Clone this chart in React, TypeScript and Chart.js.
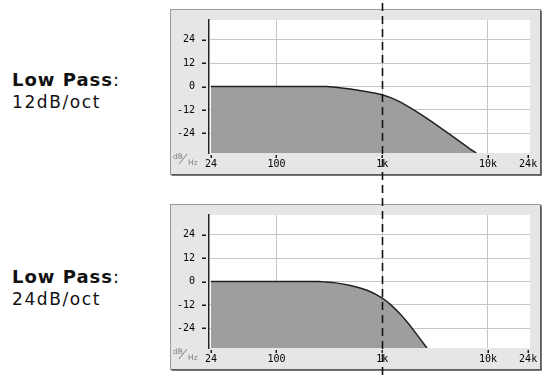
import React, { useEffect, useRef } from 'react';
import { Chart, registerables } from 'chart.js';
Chart.register(...registerables);

const freqTicks = [24, 100, 1000, 10000, 24000];
const freqTickLabels = ['24', '100', '1k', '10k', '24k'];
const dbTicks = [24, 12, 0, -12, -24];
const cutoffFreq = 1000;

const lp12Freq = [24, 100, 300, 363, 500, 720, 1000, 1200, 1490, 1850, 2300, 2850, 3540, 4400, 5470, 6790, 7750];
const lp12Db = [0, 0, 0, -0.4, -1.3, -2.7, -4.2, -5.7, -8.0, -10.9, -14.1, -17.5, -21.0, -24.6, -28.3, -32.0, -34];

const lp24Freq = [24, 100, 250, 300, 363, 500, 720, 1000, 1200, 1500, 1800, 2200, 2650];
const lp24Db = [0, 0, 0, -0.3, -0.7, -2, -4.5, -8.5, -11.8, -17, -22, -28.2, -34];

const titles = ['Low Pass', 'Low Pass'];
const slopes = ['12dB/oct', '24dB/oct'];

const MONO = '"DejaVu Sans Mono", monospace';

function FilterChart(props: { freq: number[]; db: number[]; top: number; height: number }) {
  const ref = useRef<HTMLCanvasElement | null>(null);
  useEffect(() => {
    const canvas = ref.current!;
    const H = props.height;
    const panelPlugin = {
      id: 'panel',
      beforeDraw(chart: any) {
        const ctx = chart.ctx;
        const a = chart.chartArea;
        ctx.save();
        const fx = 10.5, fy = 9.5, fw = 370, fh = 165;
        ctx.fillStyle = '#e6e6e6';
        ctx.fillRect(fx, fy, fw, fh);
        ctx.strokeStyle = '#9a9a9a';
        ctx.lineWidth = 1;
        ctx.strokeRect(fx, fy, fw, fh);
        ctx.strokeStyle = '#4a4a4a';
        ctx.lineWidth = 1.5;
        ctx.beginPath();
        ctx.moveTo(fx + fw + 0.5, fy + 1);
        ctx.lineTo(fx + fw + 0.5, fy + fh + 0.5);
        ctx.lineTo(fx + 1, fy + fh + 0.5);
        ctx.stroke();
        ctx.fillStyle = '#ffffff';
        ctx.fillRect(a.left, a.top, a.right - a.left, a.bottom - a.top);
        ctx.restore();
      },
      afterDraw(chart: any) {
        const ctx = chart.ctx;
        const a = chart.chartArea;
        const xs = chart.scales.x;
        const ys = chart.scales.y;
        ctx.save();
        ctx.fillStyle = '#1a1a1a';
        for (let i = 0; i < dbTicks.length; i++) {
          const y = Math.round(ys.getPixelForValue(dbTicks[i]));
          ctx.fillRect(a.left - 7, y - 0.5, 4, 1.5);
        }
        for (let i = 0; i < freqTicks.length; i++) {
          const x = Math.round(xs.getPixelForValue(freqTicks[i]));
          ctx.fillRect(x - 0.5, a.bottom + 2, 1.5, 3);
        }
        // dB/Hz unit
        ctx.fillStyle = '#808080';
        ctx.font = '7.5px "DejaVu Sans"';
        ctx.textBaseline = 'alphabetic';
        ctx.textAlign = 'left';
        ctx.fillText('dB', 13, a.bottom + 6);
        ctx.fillText('Hz', 28, a.bottom + 12);
        ctx.strokeStyle = '#808080';
        ctx.lineWidth = 1;
        ctx.beginPath();
        ctx.moveTo(19, a.bottom + 11);
        ctx.lineTo(27, a.bottom + 1);
        ctx.stroke();
        // cutoff dashed line
        const cx = Math.round(xs.getPixelForValue(cutoffFreq)) + 0.5;
        ctx.strokeStyle = '#111';
        ctx.lineWidth = 1.6;
        ctx.setLineDash([8, 5]);
        ctx.beginPath();
        ctx.moveTo(cx, 3);
        ctx.lineTo(cx, chart.height);
        ctx.stroke();
        ctx.restore();
      },
    };
    const chart = new Chart(canvas, {
      type: 'line',
      data: {
        datasets: [
          {
            data: props.freq.map((f, i) => ({ x: f, y: props.db[i] })),
            borderColor: '#222',
            borderWidth: 1.5,
            backgroundColor: '#9e9e9e',
            fill: 'start',
            pointRadius: 0,
            cubicInterpolationMode: 'monotone',
          },
        ],
      },
      options: {
        animation: false,
        responsive: false,
        devicePixelRatio: 1,
        layout: { padding: { left: 0, top: 16, right: 13, bottom: 0 } },
        plugins: { legend: { display: false }, tooltip: { enabled: false } },
        scales: {
          x: {
            type: 'logarithmic',
            min: 23,
            max: 25000,
            z: 1,
            afterBuildTicks: (s: any) => {
              s.ticks = freqTicks.map((v) => ({ value: v }));
            },
            afterFit: (s: any) => {
              s.height = H - 153;
            },
            ticks: {
              autoSkip: false,
              maxRotation: 0,
              padding: 5,
              color: '#000',
              font: { family: MONO, size: 10 },
              callback: (_v: any, i: number) => freqTickLabels[i],
            },
            grid: {
              drawTicks: false,
              lineWidth: 1,
              color: (c: any) => {
                const v = c.tick ? c.tick.value : 0;
                return v === 24 || v === 24000 ? 'rgba(0,0,0,0)' : '#c6c6c6';
              },
            },
            border: { display: false },
          },
          y: {
            type: 'linear',
            min: -34,
            max: 34,
            z: 1,
            afterBuildTicks: (s: any) => {
              s.ticks = dbTicks.map((v) => ({ value: v }));
            },
            afterFit: (s: any) => {
              s.width = 49;
            },
            ticks: {
              padding: 14,
              color: '#000',
              font: { family: MONO, size: 10 },
              callback: (v: any) => String(v),
            },
            grid: { drawTicks: false, color: '#c6c6c6', lineWidth: 1 },
            border: { display: true, color: '#222', width: 1.5 },
          },
        },
      },
      plugins: [panelPlugin],
    } as any);
    return () => chart.destroy();
  }, []);
  return (
    <canvas
      ref={ref}
      width={383}
      height={props.height}
      style={{ position: 'absolute', left: 160, top: props.top, width: 383, height: props.height }}
    />
  );
}

function Label(props: { title: string; slope: string; top: number }) {
  return (
    <div style={{ position: 'absolute', left: 12, top: props.top, color: '#111' }}>
      <div style={{ fontFamily: '"DejaVu Sans", sans-serif', fontSize: 18, lineHeight: '18px', letterSpacing: 1 }}>
        <span style={{ fontWeight: 'bold' }}>{props.title}</span>
        <span>:</span>
      </div>
      <div style={{ fontFamily: '"DejaVu Sans", sans-serif', fontSize: 17, lineHeight: '17px', letterSpacing: 1.6, marginTop: 5 }}>
        {props.slope}
      </div>
    </div>
  );
}

export default function App() {
  return (
    <div style={{ position: 'fixed', left: 0, top: 0, width: 543, height: 380, background: '#fff', overflow: 'hidden' }}>
      <Label title={titles[0]} slope={slopes[0]} top={71} />
      <Label title={titles[1]} slope={slopes[1]} top={268} />
      <FilterChart freq={lp12Freq} db={lp12Db} top={0} height={195} />
      <FilterChart freq={lp24Freq} db={lp24Db} top={195} height={185} />
    </div>
  );
}
